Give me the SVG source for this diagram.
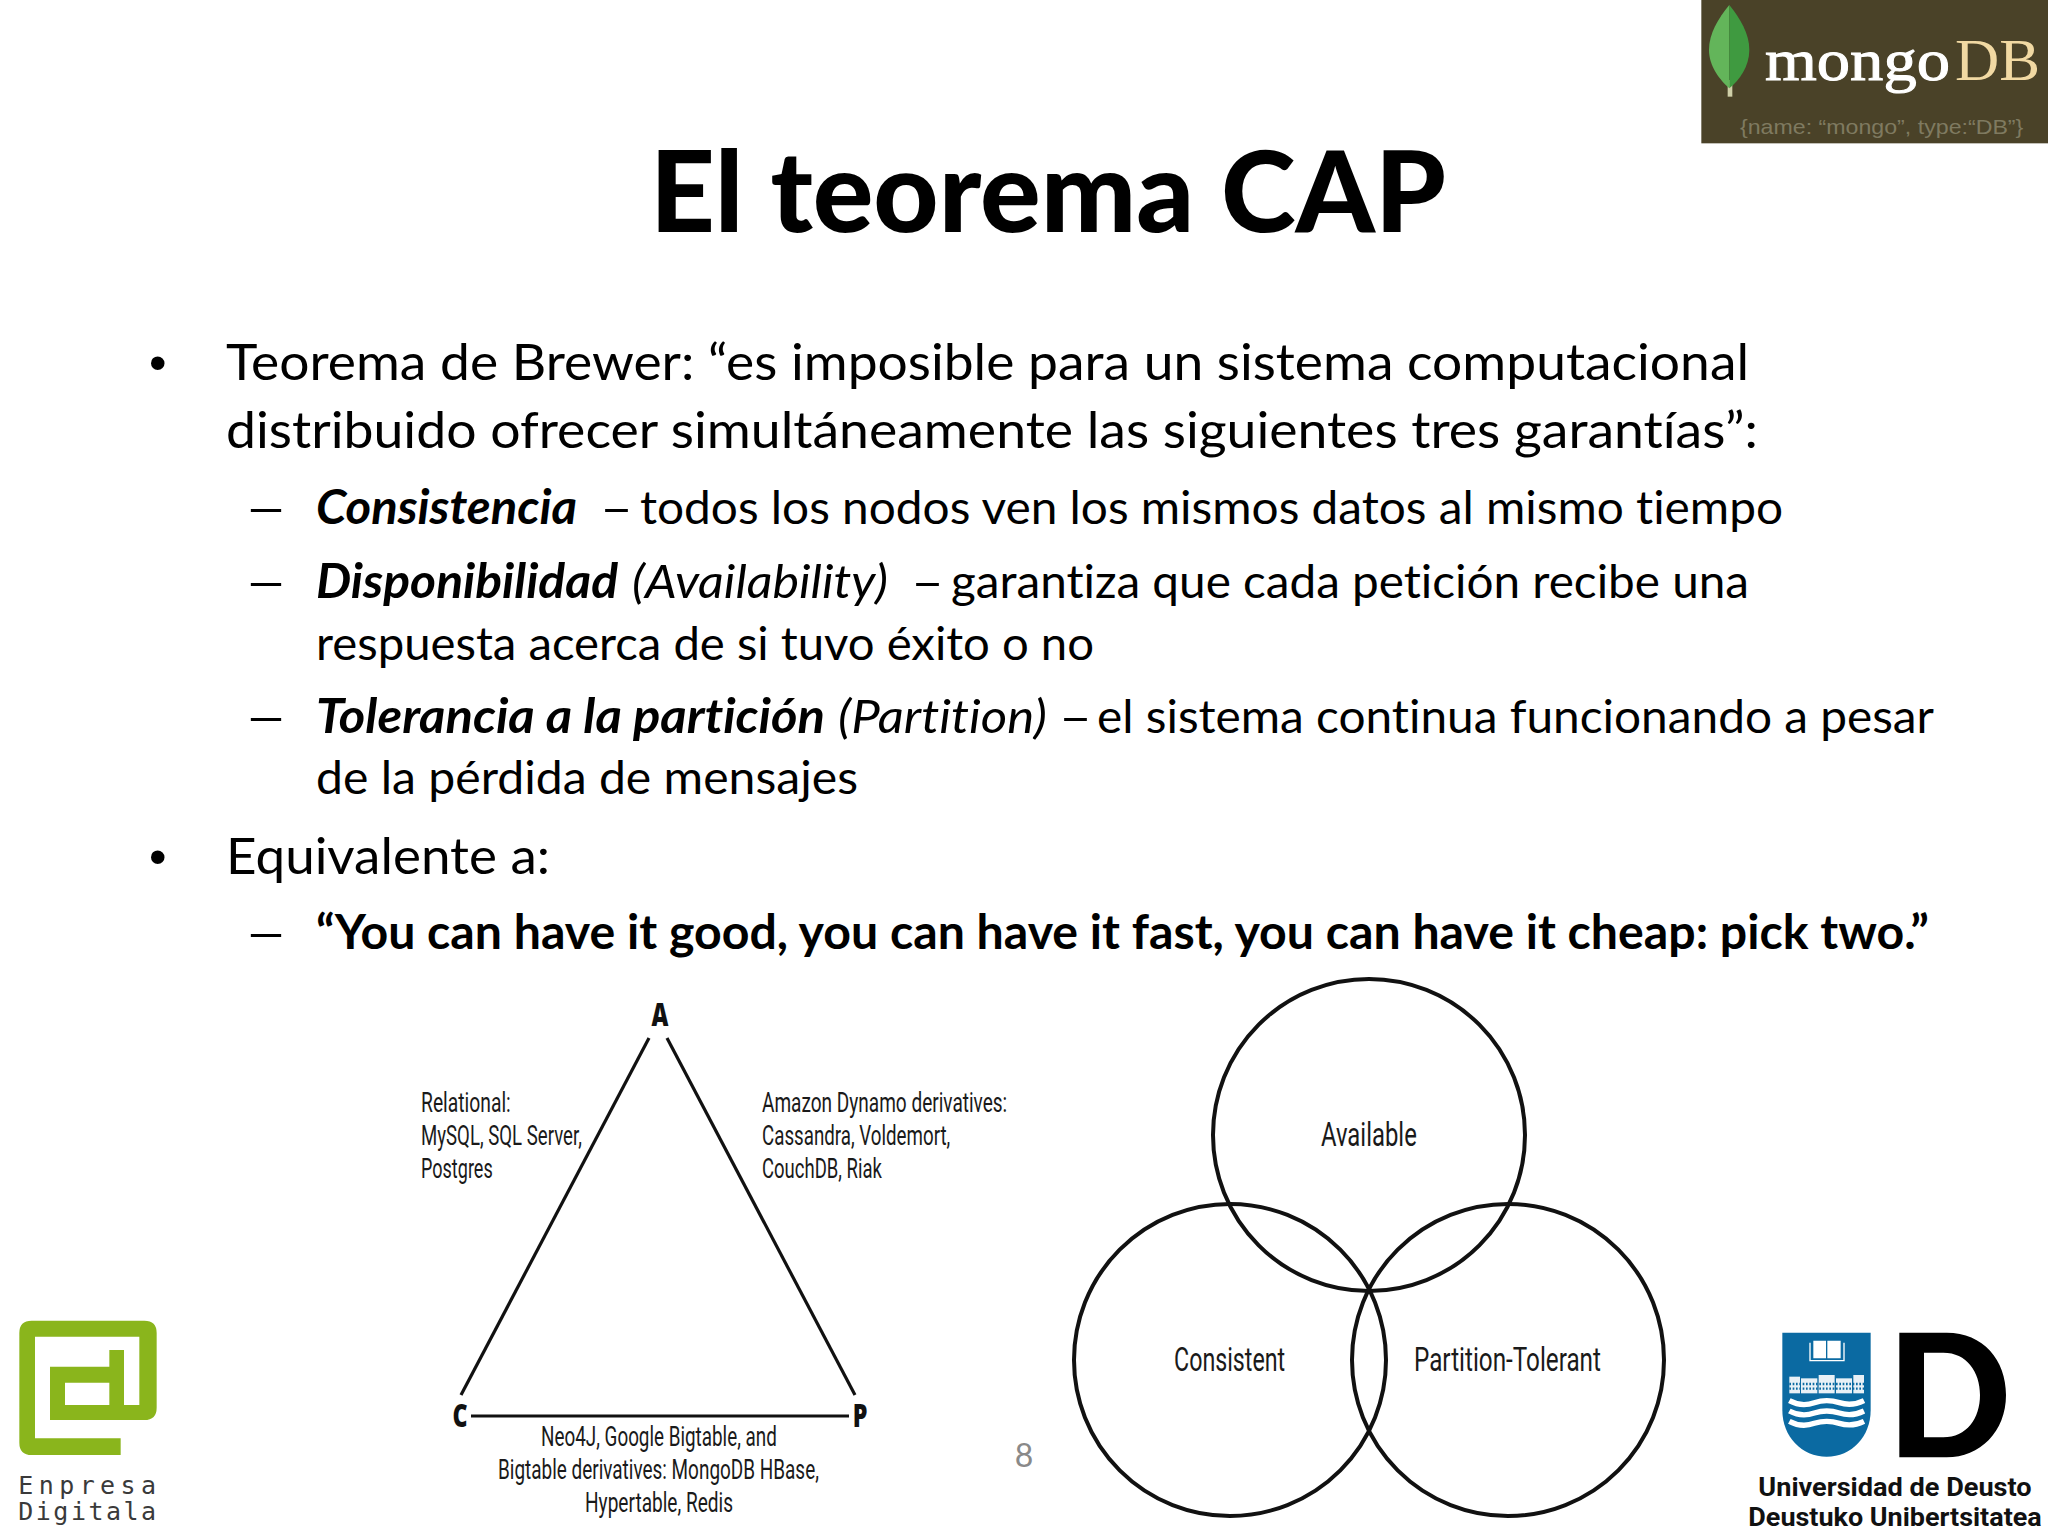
<svg xmlns="http://www.w3.org/2000/svg" width="2048" height="1536" viewBox="0 0 2048 1536">
<style>
text{font-family:"Lato","Noto Sans",sans-serif;fill:#000;font-variant-ligatures:none}
.l1{font-size:51px}
.l2{font-size:47px}
.bul{font-family:"Liberation Sans",sans-serif;font-size:50px}
.fig{font-family:"Roboto",sans-serif;font-size:28px;fill:#1a1a1a}
.vl{font-family:"Roboto",sans-serif;font-size:33px;fill:#1a1a1a}
.cap{font-family:"Open Sans",sans-serif;font-size:31px;font-weight:800;fill:#111;text-anchor:middle}
.edge{stroke:#111;stroke-width:3.2;fill:none}
.circ{stroke:#111;stroke-width:4;fill:none}
.b{font-weight:700}
.i{font-style:italic}
.ud{font-family:"Roboto",sans-serif;font-size:75px;font-weight:700;fill:#111}
.ed{font-family:"DejaVu Sans Mono",monospace;font-size:75px;fill:#3a3a3a}
</style>
<rect width="2048" height="1536" fill="#fff"/>
<g id="title"><text x="650" y="232" font-size="112" font-weight="900" textLength="796" lengthAdjust="spacingAndGlyphs">El teorema CAP</text></g>
<g id="body">
<text class="bul" x="149" y="380">•</text>
<text class="l1" x="226" y="380" textLength="1523" lengthAdjust="spacingAndGlyphs">Teorema de Brewer: “es imposible para un sistema computacional</text>
<text class="l1" x="226" y="448" textLength="1532" lengthAdjust="spacingAndGlyphs">distribuido ofrecer simultáneamente las siguientes tres garantías”:</text>
<text class="l2" x="244" y="524" textLength="44" lengthAdjust="spacingAndGlyphs">–</text>
<text class="l2 b i" x="316" y="524" textLength="261" lengthAdjust="spacingAndGlyphs">Consistencia</text>
<text class="l2" x="600" y="524" textLength="33" lengthAdjust="spacingAndGlyphs">–</text>
<text class="l2" x="640" y="524" textLength="1143" lengthAdjust="spacingAndGlyphs">todos los nodos ven los mismos datos al mismo tiempo</text>
<text class="l2" x="244" y="598" textLength="44" lengthAdjust="spacingAndGlyphs">–</text>
<text class="l2 b i" x="316" y="598" textLength="302" lengthAdjust="spacingAndGlyphs">Disponibilidad</text>
<text class="l2 i" x="632" y="598" textLength="256" lengthAdjust="spacingAndGlyphs">(Availability)</text>
<text class="l2" x="911" y="598" textLength="33" lengthAdjust="spacingAndGlyphs">–</text>
<text class="l2" x="951" y="598" textLength="798" lengthAdjust="spacingAndGlyphs">garantiza que cada petición recibe una</text>
<text class="l2" x="316" y="660" textLength="778" lengthAdjust="spacingAndGlyphs">respuesta acerca de si tuvo éxito o no</text>
<text class="l2" x="244" y="733" textLength="44" lengthAdjust="spacingAndGlyphs">–</text>
<text class="l2 b i" x="316" y="733" textLength="509" lengthAdjust="spacingAndGlyphs">Tolerancia a la partición</text>
<text class="l2 i" x="838" y="733" textLength="209" lengthAdjust="spacingAndGlyphs">(Partition)</text>
<text class="l2" x="1059" y="733" textLength="33" lengthAdjust="spacingAndGlyphs">–</text>
<text class="l2" x="1097" y="733" textLength="837" lengthAdjust="spacingAndGlyphs">el sistema continua funcionando a pesar</text>
<text class="l2" x="316" y="794" textLength="542" lengthAdjust="spacingAndGlyphs">de la pérdida de mensajes</text>
<text class="bul" x="149" y="874">•</text>
<text class="l1" x="226" y="874" textLength="324" lengthAdjust="spacingAndGlyphs">Equivalente a:</text>
<text class="l2" x="244" y="949" textLength="44" lengthAdjust="spacingAndGlyphs">–</text>
<text class="l2 b" x="316" y="949" textLength="1613" lengthAdjust="spacingAndGlyphs">“You can have it good, you can have it fast, you can have it cheap: pick two.”</text>
</g>
<g id="connectors">
<path class="edge" d="M649,1038 L461,1395"/>
<path class="edge" d="M667,1038 L855,1395"/>
<path class="edge" d="M471,1416 H849"/>
</g>
<g id="node-A"><text class="cap" transform="translate(660,1026) scale(.75,1)">A</text></g>
<g id="node-C"><text class="cap" transform="translate(460,1427) scale(.75,1)">C</text></g>
<g id="node-P"><text class="cap" transform="translate(860,1427) scale(.75,1)">P</text></g>
<g id="label-relational">
<text class="fig" transform="translate(421,1112) scale(.67,1)" textLength="134" lengthAdjust="spacingAndGlyphs">Relational:</text>
<text class="fig" transform="translate(421,1145) scale(.67,1)" textLength="240" lengthAdjust="spacingAndGlyphs">MySQL, SQL Server,</text>
<text class="fig" transform="translate(421,1178) scale(.67,1)" textLength="107" lengthAdjust="spacingAndGlyphs">Postgres</text>
</g>
<g id="label-dynamo">
<text class="fig" transform="translate(762,1112) scale(.67,1)" textLength="366" lengthAdjust="spacingAndGlyphs">Amazon Dynamo derivatives:</text>
<text class="fig" transform="translate(762,1145) scale(.67,1)" textLength="281" lengthAdjust="spacingAndGlyphs">Cassandra, Voldemort,</text>
<text class="fig" transform="translate(762,1178) scale(.67,1)" textLength="179" lengthAdjust="spacingAndGlyphs">CouchDB, Riak</text>
</g>
<g id="label-bigtable">
<text class="fig" transform="translate(541,1446) scale(.67,1)" textLength="352" lengthAdjust="spacingAndGlyphs">Neo4J, Google Bigtable, and</text>
<text class="fig" transform="translate(498,1479) scale(.67,1)" textLength="479" lengthAdjust="spacingAndGlyphs">Bigtable derivatives: MongoDB HBase,</text>
<text class="fig" transform="translate(585,1512) scale(.67,1)" textLength="221" lengthAdjust="spacingAndGlyphs">Hypertable, Redis</text>
</g>
<g id="page-number"><text x="1024" y="1467" font-size="32" style="fill:#898989" text-anchor="middle">8</text></g>
<g id="venn-available"><circle class="circ" cx="1369" cy="1135" r="156"/><text class="vl" transform="translate(1321,1146) scale(.67,1)" textLength="143" lengthAdjust="spacingAndGlyphs">Available</text></g>
<g id="venn-consistent"><circle class="circ" cx="1230" cy="1360" r="156"/><text class="vl" transform="translate(1174,1371) scale(.67,1)" textLength="166" lengthAdjust="spacingAndGlyphs">Consistent</text></g>
<g id="venn-partition"><circle class="circ" cx="1508" cy="1360" r="156"/><text class="vl" transform="translate(1414,1371) scale(.67,1)" textLength="279" lengthAdjust="spacingAndGlyphs">Partition-Tolerant</text></g>
<g id="logo-mongodb" transform="translate(1680,0) scale(.33333)">
<rect x="64" y="0" width="1040" height="430" fill="#4a4228"/>
<path d="M143,240 h14 v50 h-14z" fill="#cfcfa8"/>
<path d="M148,15 C115,55 87,100 87,150 C87,200 120,240 148,265Z" fill="#63b55a"/>
<path d="M148,15 C180,55 208,100 208,150 C208,200 178,240 148,265Z" fill="#3f9a40"/>
<text x="255" y="240" font-size="176" textLength="555" lengthAdjust="spacingAndGlyphs" stroke="#fff" stroke-width="3" style="font-family:'Liberation Serif',serif;fill:#fff">mongo</text>
<text x="825" y="240" font-size="176" textLength="255" lengthAdjust="spacingAndGlyphs" style="font-family:'Liberation Serif',serif;fill:#f1d9a3">DB</text>
<text x="180" y="403" font-size="62" textLength="850" lengthAdjust="spacingAndGlyphs" style="font-family:'Liberation Sans',sans-serif;fill:#7f7a60">{name: “mongo”, type:“DB”}</text>
</g>
<g id="logo-enpresa-digitala" transform="translate(0,1300) scale(.33333)">
<path fill="#8ab51c" fill-rule="evenodd" d="M95,62 H433 Q470,62 470,99 V323 Q470,360 433,360 H150 V200 H328 V150 H372 V315 H418 V110 H105 V415 H362 V465 H95 Q58,465 58,428 V99 Q58,62 95,62Z M195,248 V315 H328 V248Z"/>
<text class="ed" x="55" y="583" textLength="413">Enpresa</text>
<text class="ed" x="55" y="660" textLength="413">Digitala</text>
</g>
<g id="logo-deusto" transform="translate(1720,1310) scale(.33333)">
<path d="M187,68 H452 V300 C452,380 395,440 320,440 C245,440 187,380 187,300Z" fill="#0b6aa2"/>
<path d="M280,92 H318 V145 H280Z M322,92 H362 V145 H322Z" fill="#fff"/>
<path d="M270,98 V152 H372 V98" fill="none" stroke="#fff" stroke-width="4"/>
<g fill="#e8f0f6"><rect x="208" y="200" width="32" height="50"/><rect x="243" y="205" width="49" height="45"/><rect x="296" y="195" width="48" height="55"/><rect x="348" y="205" width="48" height="45"/><rect x="400" y="195" width="32" height="55"/></g>
<path d="M208,222 H432 M208,236 H432" stroke="#0b6aa2" stroke-width="7" stroke-dasharray="5 5"/>
<path d="M208,272 q37,20 75,6 q37,-12 75,0 q37,12 74,-6 M208,303 q37,20 75,6 q37,-12 75,0 q37,12 74,-6 M208,334 q37,20 75,6 q37,-12 75,0 q37,12 74,-6" fill="none" stroke="#fff" stroke-width="16"/>
<path fill="#000" fill-rule="evenodd" d="M538,68 H680 C790,68 858,150 858,255 C858,365 780,442 680,442 H538Z M612,128 V382 H670 C740,382 780,325 780,255 C780,185 740,128 670,128Z"/>
<text class="ud" transform="translate(115,558) scale(.9,1)" textLength="911" lengthAdjust="spacingAndGlyphs">Universidad de Deusto</text>
<text class="ud" transform="translate(85,648) scale(.9,1)" textLength="978" lengthAdjust="spacingAndGlyphs">Deustuko Unibertsitatea</text>
</g>
</svg>
